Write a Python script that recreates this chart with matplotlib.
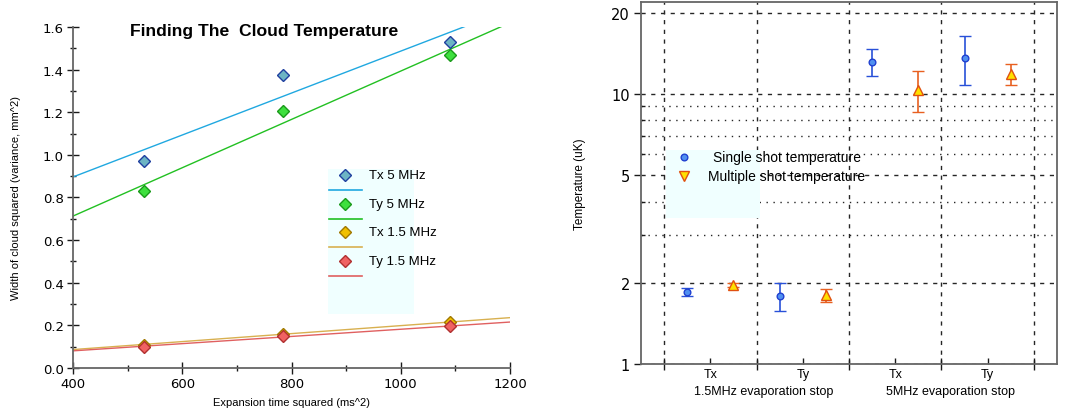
import numpy as np
import matplotlib
matplotlib.use("Agg")
import matplotlib.pyplot as plt
from matplotlib.patches import Rectangle
from matplotlib.ticker import FixedLocator, NullFormatter, FixedFormatter, MultipleLocator

# ---- left panel data ----
t_sq = [530, 785, 1090]
names = ["Tx 5 MHz", "Ty 5 MHz", "Tx 1.5 MHz", "Ty 1.5 MHz"]
width_sq = [
    [0.97, 1.375, 1.53],
    [0.83, 1.205, 1.47],
    [0.11, 0.16, 0.215],
    [0.10, 0.15, 0.195],
]
face_cols = ["#6cb4c4", "#3ee03e", "#f0c000", "#f06262"]
edge_cols = ["#1f3f9f", "#1a9a1a", "#a07800", "#b03030"]
line_cols = ["#20a8e0", "#22c022", "#d8b050", "#e06060"]

# ---- right panel data ----
single_x = [0.75, 1.75, 2.75, 3.75]
single_T = [1.85, 1.78, 13.2, 13.6]
single_err = [0.06, 0.21, 1.55, 2.8]
multi_x = [1.25, 2.25, 3.25, 4.25]
multi_T = [1.965, 1.80, 10.4, 11.85]
multi_err = [0.035, 0.10, 1.8, 1.05]
axis_labels = ["Tx", "Ty", "Tx", "Ty"]
groups = ["1.5MHz evaporation stop", "5MHz evaporation stop"]

sans = ["Liberation Sans", "DejaVu Sans"]

fig = plt.figure(figsize=(10.85, 4.14), dpi=100)

# ================= left =================
ax = fig.add_axes([0.0673, 0.1087, 0.4028, 0.8237])
xx = np.array([400, 1200])
for i in range(4):
    k, b = np.polyfit(t_sq, width_sq[i], 1)
    ax.plot(xx, k * xx + b, color=line_cols[i], lw=1, zorder=2)
    ax.plot(t_sq, width_sq[i], "D", ms=6, mfc=face_cols[i], mec=edge_cols[i],
            mew=1, zorder=3)
ax.set_xlim(400, 1200)
ax.set_ylim(0, 1.6)
ax.xaxis.set_major_locator(MultipleLocator(200))
ax.xaxis.set_minor_locator(MultipleLocator(100))
ax.yaxis.set_major_locator(MultipleLocator(0.2))
ax.yaxis.set_minor_locator(MultipleLocator(0.1))
ax.yaxis.set_major_formatter(matplotlib.ticker.FormatStrFormatter("%.1f"))
for s in ["top", "right"]:
    ax.spines[s].set_visible(False)
for s in ["left", "bottom"]:
    ax.spines[s].set_color("0.4")
    ax.spines[s].set_linewidth(1.3)
ax.tick_params(which="major", direction="inout", length=9, width=1, color="0.1",
               labelsize=9.5, pad=2)
ax.tick_params(which="minor", direction="inout", length=5, width=1, color="0.1")
ax.set_xlabel("Expansion time squared (ms^2)", fontsize=8, family=sans, labelpad=5)
ax.set_ylabel("Width of cloud squared (variance, mm^2)", fontsize=8, family=sans,
              labelpad=16)
ax.text(0.437, 0.991, "Finding The  Cloud Temperature", transform=ax.transAxes,
        ha="center", va="center", fontsize=12.6, fontweight="bold", family=sans)

# legend (marker row, then line row)
ax.add_patch(Rectangle((0.5835, 0.158), 0.197, 0.4256, transform=ax.transAxes,
                       facecolor="#f0ffff", edgecolor="none", zorder=1))
step = 28.7 / 341
for i in range(4):
    ym = 0.5659 - i * step
    yl = ym - 15 / 341
    ax.plot([0.623], [ym], "D", ms=6, mfc=face_cols[i], mec=edge_cols[i], mew=1,
            transform=ax.transAxes, clip_on=False, zorder=4)
    ax.plot([0.586, 0.661], [yl, yl], color=line_cols[i], lw=1.2,
            transform=ax.transAxes, zorder=4)
    ax.text(0.677, ym, names[i], transform=ax.transAxes, va="center",
            fontsize=9.5, family=sans, zorder=4)

# ================= right =================
ax2 = fig.add_axes([0.5908, 0.1184, 0.3834, 0.875])
ax2.set_yscale("log")
ax2.set_ylim(1, 22)
ax2.set_xlim(0.25, 4.75)
ax2.errorbar(single_x, single_T, yerr=single_err, fmt="o", ms=4.8, mfc="#5090f0",
             mec="#2040d0", mew=1, ecolor="#2850d8", elinewidth=1.2, capsize=4,
             capthick=1.2, zorder=4)
ax2.errorbar(multi_x, multi_T, yerr=multi_err, fmt="^", ms=6.5, mfc="#ffe000",
             mec="#e05010", mew=1, ecolor="#e86020", elinewidth=1.2, capsize=4,
             capthick=1.2, zorder=4)

ax2.yaxis.set_major_locator(FixedLocator([1, 2, 5, 10, 20]))
ax2.yaxis.set_major_formatter(FixedFormatter(["1", "2", "5", "10", "20"]))
ax2.yaxis.set_minor_locator(FixedLocator([3, 4, 6, 7, 8, 9]))
ax2.yaxis.set_minor_formatter(NullFormatter())
ax2.xaxis.set_major_locator(FixedLocator([0.5, 1.5, 2.5, 3.5, 4.5]))
ax2.xaxis.set_major_formatter(NullFormatter())
ax2.xaxis.set_minor_locator(FixedLocator([1, 2, 3, 4]))
ax2.xaxis.set_minor_formatter(FixedFormatter(axis_labels))

ax2.grid(which="major", axis="both", color="0.15", linestyle=(0, (3, 4)), lw=1)
ax2.grid(which="minor", axis="y", color="0.15", linestyle=(0, (1, 4)), lw=1)
ax2.set_axisbelow(True)

for s in ax2.spines.values():
    s.set_color("0.4")
    s.set_linewidth(1.3)
ax2.tick_params(axis="y", which="major", direction="out", length=5, width=1,
                color="0.1", labelsize=10.5, pad=3)
ax2.tick_params(axis="y", which="minor", direction="in", length=3, width=1,
                color="0.1")
ax2.tick_params(axis="x", which="major", direction="inout", length=8, width=1,
                color="0.1")
ax2.tick_params(axis="x", which="minor", direction="in", length=4, width=1,
                color="0.1", labelsize=9, pad=3)
for lab in ax2.get_xticklabels(minor=True):
    lab.set_family(sans)

ax2.text(1.58, -0.075, groups[0], transform=ax2.get_xaxis_transform(),
         ha="center", va="center", fontsize=9, family=sans)
ax2.text(3.6, -0.075, groups[1], transform=ax2.get_xaxis_transform(),
         ha="center", va="center", fontsize=9, family=sans)
ax2.set_ylabel("Temperature (uK)", fontsize=8.5, family=sans, labelpad=18)

# legend
ax2.add_patch(Rectangle((0.060, 0.403), 0.226, 0.188, transform=ax2.transAxes,
                        facecolor="#f0ffff", edgecolor="none", zorder=3))
ax2.plot([0.1034], [0.5714], "o", ms=4.8, mfc="#5090f0", mec="#2040d0", mew=1,
         transform=ax2.transAxes, zorder=5)
ax2.plot([0.1034], [0.519], "v", ms=6.5, mfc="#ffe000", mec="#e05010", mew=1,
         transform=ax2.transAxes, zorder=5)
ax2.text(0.351, 0.5714, "Single shot temperature", transform=ax2.transAxes,
         ha="center", va="center", fontsize=10, family=sans, zorder=5)
ax2.text(0.351, 0.519, "Multiple shot temperature", transform=ax2.transAxes,
         ha="center", va="center", fontsize=10, family=sans, zorder=5)

fig.savefig("out.png", dpi=100)
